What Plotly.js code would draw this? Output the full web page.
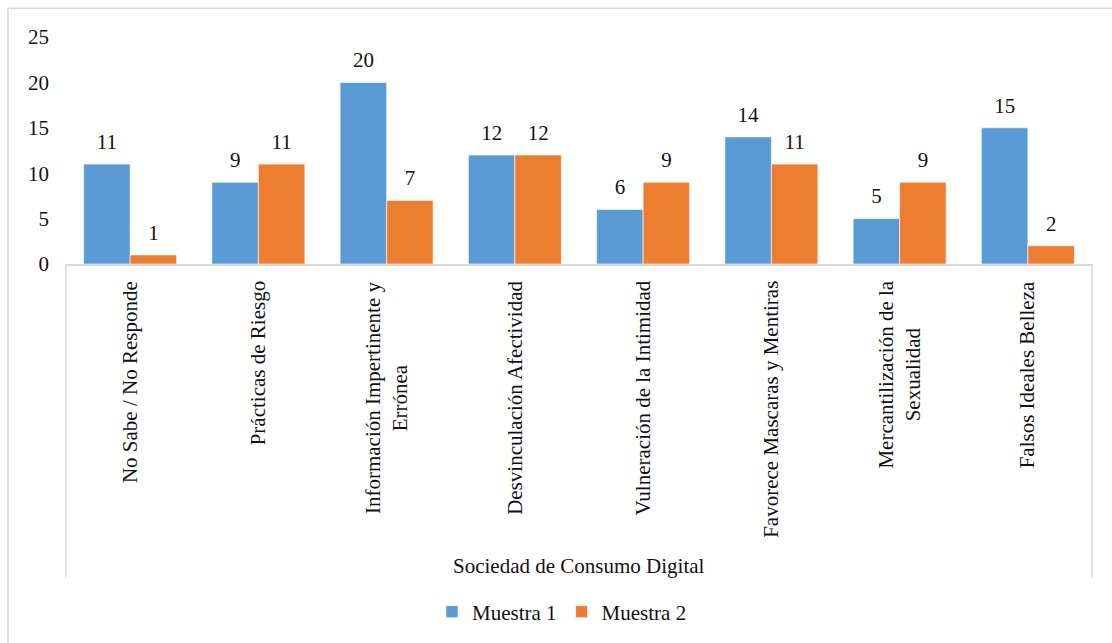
<!DOCTYPE html>
<html>
<head>
<meta charset="utf-8">
<script src="https://cdn.plot.ly/plotly-3.0.1.min.js"></script>
<style>
html,body{margin:0;padding:0;background:#fff;}
#chart{width:1112px;height:643px;}
</style>
</head>
<body>
<div id="chart"></div>
<script>
const categories = [
  "No Sabe / No Responde",
  "Prácticas de Riesgo",
  "Información Impertinente y<br>Errónea",
  "Desvinculación Afectividad",
  "Vulneración de la Intimidad",
  "Favorece Mascaras y Mentiras",
  "Mercantilización de la<br>Sexualidad",
  "Falsos Ideales Belleza"
];
const muestra1 = [11, 9, 20, 12, 6, 14, 5, 15];
const muestra2 = [1, 11, 7, 12, 9, 11, 9, 2];
const groupTitle = "Sociedad de Consumo Digital";
const seriesNames = ["Muestra 1", "Muestra 2"];
const yTicks = [0, 5, 10, 15, 20, 25];

const FONT = "Liberation Serif";
const TXT = "#111111";
const BLUE = "#5b9bd5";
const ORANGE = "#ed7d31";
const LABEL_LIFT = 0.8;

const W = 1112, H = 643;
const L = 66, R = 1092, T = 37, B = 265;
const pw = R - L, ph = B - T;
const px = v => (v - L) / pw;
const py = v => (B - v) / ph;

const traces = [
  {type:'bar', x:categories, y:muestra1, name:seriesNames[0], offsetgroup:'a',
   marker:{color:BLUE, line:{color:'#ffffff', width:0.6}}, hoverinfo:'skip'},
  {type:'bar', x:categories, y:muestra2, name:seriesNames[1], offsetgroup:'b',
   marker:{color:ORANGE, line:{color:'#ffffff', width:0.6}}, hoverinfo:'skip'},
  {type:'bar', x:categories, base:muestra1, y:muestra1.map(()=>LABEL_LIFT), offsetgroup:'a',
   showlegend:false, marker:{color:'rgba(0,0,0,0)'}, text:muestra1.map(String),
   textposition:'outside', cliponaxis:false, constraintext:'none',
   textfont:{family:FONT, size:21, color:TXT}, hoverinfo:'skip'},
  {type:'bar', x:categories, base:muestra2, y:muestra2.map(()=>LABEL_LIFT), offsetgroup:'b',
   showlegend:false, marker:{color:'rgba(0,0,0,0)'}, text:muestra2.map(String),
   textposition:'outside', cliponaxis:false, constraintext:'none',
   textfont:{family:FONT, size:21, color:TXT}, hoverinfo:'skip'}
];

const annotations = categories.map(c => ({
  xref:'x', yref:'paper', x:c, y:py(280), yanchor:'top', xanchor:'center',
  text:c, textangle:-90, align:'center', showarrow:false,
  font:{family:FONT, size:21, color:TXT}
}));
annotations.push({
  xref:'paper', yref:'paper', x:px(579), y:py(568), xanchor:'center', yanchor:'middle',
  text:groupTitle, showarrow:false, font:{family:FONT, size:21, color:TXT}
});

const gray = '#d9d9d9';
const shapes = [
  {type:'line', xref:'paper', yref:'paper', x0:px(8), x1:px(8), y0:py(8), y1:py(650), line:{color:gray, width:1.5}},
  {type:'line', xref:'paper', yref:'paper', x0:px(8), x1:px(1120), y0:py(8), y1:py(8), line:{color:gray, width:1.5}},
  {type:'line', xref:'paper', yref:'paper', x0:0, x1:0, y0:0, y1:py(580), line:{color:gray, width:1.5}},
  {type:'line', xref:'paper', yref:'paper', x0:1, x1:1, y0:0, y1:py(580), line:{color:gray, width:1.5}}
];

const layout = {
  width:W, height:H,
  margin:{l:L, r:W-R, t:T, b:H-B, pad:0},
  paper_bgcolor:'#ffffff', plot_bgcolor:'#ffffff',
  barmode:'group', bargap:0.275, bargroupgap:0,
  font:{family:FONT, size:21, color:TXT},
  xaxis:{type:'category', showticklabels:false, showgrid:false, zeroline:false,
         showline:true, linecolor:gray, linewidth:1.5, ticks:'', fixedrange:true},
  yaxis:{range:[0,25], tickvals:yTicks, ticktext:yTicks.map(String), showgrid:false,
         zeroline:false, showline:false, ticks:'', ticklabelstandoff:16,
         tickfont:{family:FONT, size:21, color:TXT}, fixedrange:true},
  showlegend:true,
  legend:{orientation:'h', x:px(562), xanchor:'center', y:py(612), yanchor:'middle',
          font:{family:FONT, size:21, color:TXT}, itemwidth:30, traceorder:'normal',
          bgcolor:'rgba(0,0,0,0)'},
  annotations:annotations,
  shapes:shapes
};

Plotly.newPlot('chart', traces, layout, {displayModeBar:false, staticPlot:true});
</script>
</body>
</html>
